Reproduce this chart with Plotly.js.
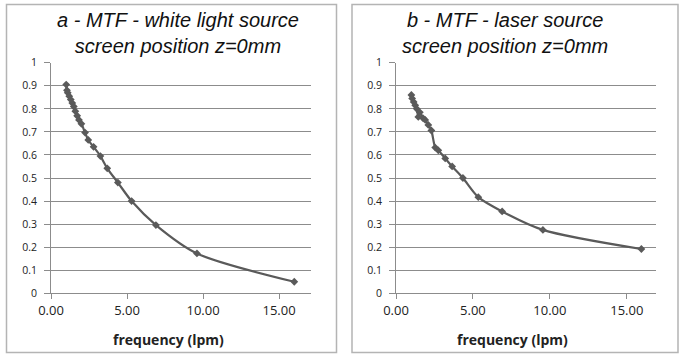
<!DOCTYPE html>
<html>
<head>
<meta charset="utf-8">
<script src="https://cdn.plot.ly/plotly-3.0.1.min.js"></script>
<style>html,body{margin:0;padding:0;background:#fff;}#chart{width:680px;height:354px;}</style>
</head>
<body>
<div id="chart"></div>
<script>
// Panel a - white light source
const freqA = [1.0, 1.05, 1.1, 1.2, 1.3, 1.4, 1.5, 1.6, 1.72, 1.84, 2.0, 2.24, 2.45, 2.8, 3.25, 3.7, 4.4, 5.3, 6.9, 9.6, 16.0];
const mtfA  = [0.905, 0.88, 0.87, 0.855, 0.84, 0.825, 0.81, 0.79, 0.77, 0.752, 0.735, 0.697, 0.665, 0.635, 0.595, 0.542, 0.48, 0.40, 0.296, 0.173, 0.05];
// Panel b - laser source
const freqB = [1.0, 1.05, 1.15, 1.25, 1.35, 1.45, 1.55, 1.75, 1.9, 2.1, 2.3, 2.55, 2.75, 3.2, 3.65, 4.35, 5.35, 6.9, 9.55, 15.95];
const mtfB  = [0.86, 0.845, 0.83, 0.815, 0.80, 0.765, 0.785, 0.76, 0.752, 0.73, 0.706, 0.632, 0.62, 0.585, 0.55, 0.50, 0.417, 0.355, 0.275, 0.192];
const xTickVals = [0, 5, 10, 15];
const yTickVals = [0, 0.1, 0.2, 0.3, 0.4, 0.5, 0.6, 0.7, 0.8, 0.9, 1];
const titleA = "a - MTF - white light source<br>screen position z=0mm";
const titleB = "b - MTF - laser source<br>screen position z=0mm";
const xTitle = "frequency (lpm)";

const W = 680, H = 354;
const px = v => v / W;
const py = v => 1 - v / H;

const lineStyle = {color: '#5a5a5a', width: 2.2, shape: 'spline', smoothing: 0.8};
const markerStyle = {symbol: 'diamond', size: 6, color: '#5a5a5a'};

const traces = [
  {x: freqA, y: mtfA, xaxis: 'x', yaxis: 'y', mode: 'lines+markers', line: lineStyle, marker: markerStyle, showlegend: false, hoverinfo: 'skip'},
  {x: freqB, y: mtfB, xaxis: 'x2', yaxis: 'y2', mode: 'lines+markers', line: lineStyle, marker: markerStyle, showlegend: false, hoverinfo: 'skip'}
];

function xax(domain, range) {
  return {
    domain: domain, range: range, tickvals: xTickVals, tickformat: '.2f',
    showgrid: false, zeroline: false, showline: true, linecolor: '#8c8c8c', linewidth: 1,
    ticks: 'outside', ticklen: 5, tickcolor: '#8c8c8c',
    tickfont: {family: 'Open Sans, sans-serif', size: 13, color: '#222'}, fixedrange: true
  };
}
function yax(anchor) {
  return {
    domain: [1 - 293.3 / H, 1 - 62.7 / H], range: [0, 1], tickvals: yTickVals,
    anchor: anchor,
    showgrid: true, gridcolor: '#8c8c8c', gridwidth: 1, zeroline: false,
    showline: true, linecolor: '#8c8c8c', linewidth: 1,
    ticks: 'outside', ticklen: 6, tickcolor: '#8c8c8c', ticklabelstandoff: 5,
    tickfont: {family: 'Open Sans, sans-serif', size: 10.5, color: '#222'}, fixedrange: true
  };
}

const layout = {
  width: W, height: H,
  margin: {l: 0, r: 0, t: 0, b: 0},
  paper_bgcolor: '#fff', plot_bgcolor: '#fff',
  xaxis: Object.assign(xax([px(51), px(311)], [0, 17.1]), {anchor: 'y'}),
  yaxis: yax('x'),
  xaxis2: Object.assign(xax([px(396), px(656)], [0, 16.9]), {anchor: 'y2'}),
  yaxis2: yax('x2'),
  shapes: [
    {type: 'rect', xref: 'paper', yref: 'paper', x0: px(6.5), x1: px(336.5), y0: py(352.5), y1: py(4.5), line: {color: '#b4b4b4', width: 1.5}},
    {type: 'rect', xref: 'paper', yref: 'paper', x0: px(352), x1: px(678), y0: py(352.5), y1: py(4.5), line: {color: '#b4b4b4', width: 1.5}}
  ],
  annotations: [
    {text: titleA, xref: 'paper', yref: 'paper', x: px(178), y: py(33), xanchor: 'center', yanchor: 'middle', showarrow: false,
     font: {family: 'Liberation Sans, Arial, sans-serif', size: 20, color: '#111', style: 'italic'}},
    {text: titleB, xref: 'paper', yref: 'paper', x: px(505), y: py(33), xanchor: 'center', yanchor: 'middle', showarrow: false,
     font: {family: 'Liberation Sans, Arial, sans-serif', size: 20, color: '#111', style: 'italic'}},
    {text: '<b>' + xTitle + '</b>', xref: 'paper', yref: 'paper', x: px(168), y: py(339), xanchor: 'center', yanchor: 'middle', showarrow: false,
     font: {family: 'Open Sans, sans-serif', size: 14, color: '#222'}},
    {text: '<b>' + xTitle + '</b>', xref: 'paper', yref: 'paper', x: px(512), y: py(339), xanchor: 'center', yanchor: 'middle', showarrow: false,
     font: {family: 'Open Sans, sans-serif', size: 14, color: '#222'}}
  ]
};

Plotly.newPlot('chart', traces, layout, {staticPlot: true, displayModeBar: false});
</script>
</body>
</html>
